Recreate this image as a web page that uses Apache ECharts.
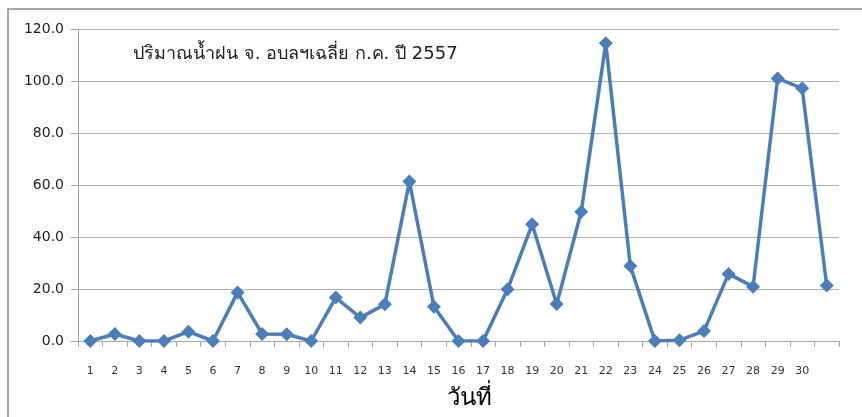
<!DOCTYPE html>
<html>
<head>
<meta charset="utf-8">
<script src="https://cdn.jsdelivr.net/npm/echarts@6/dist/echarts.min.js"></script>
<style>
  html, body { margin: 0; padding: 0; background: #fff; }
  #rain { width: 862px; height: 417px; }
</style>
</head>
<body>
<div id="rain"></div>
<script>
// วันที่ 1-30 (+ ช่องสุดท้ายไม่มีป้าย)
var days = ['1','2','3','4','5','6','7','8','9','10','11','12','13','14','15','16','17','18','19','20','21','22','23','24','25','26','27','28','29','30',''];
// ปริมาณน้ำฝนเฉลี่ย (มม.)
var rainfall = [0, 2.7, 0, 0, 3.6, 0, 18.7, 2.7, 2.6, 0, 16.7, 9.0, 14.1, 61.3, 13.2, 0, 0, 19.9, 44.9, 14.2, 49.7, 114.5, 28.8, 0, 0.3, 3.8, 25.8, 20.9, 101.0, 97.2, 21.3];
var yTicks = [0, 20, 40, 60, 80, 100, 120];

var myChart = echarts.init(document.getElementById('rain'));
var option = {
    animation: false,
    textStyle: { fontFamily: 'DejaVu Sans, Noto Sans, sans-serif' },
    grid: { left: 78, right: 23, top: 29, bottom: 76, containLabel: false, outerBoundsMode: 'none' },
    title: {
        text: 'ปริมาณน้ำฝน จ. อบลฯเฉลี่ย ก.ค. ปี 2557',
        left: 128, top: 40,
        textStyle: { fontSize: 18, fontWeight: 'normal', color: '#222' }
    },
    graphic: [{
        type: 'rect',
        shape: { x: 8, y: 9, width: 900, height: 450 },
        style: { fill: 'none', stroke: '#888', lineWidth: 1.5 },
        silent: true
    }],
    xAxis: {
        type: 'category',
        data: days,
        boundaryGap: true,
        name: 'วันที่',
        nameLocation: 'middle',
        nameGap: 46,
        nameTextStyle: { fontSize: 24, color: '#000', padding: [0, 0, 0, 22] },
        axisLine: { lineStyle: { color: '#a6a6a6', width: 1 } },
        axisTick: { show: true, length: 6, alignWithLabel: false, lineStyle: { color: '#a6a6a6' } },
        axisLabel: { fontSize: 11, color: '#333', margin: 25, interval: 0 }
    },
    yAxis: {
        type: 'value',
        min: yTicks[0],
        max: yTicks[yTicks.length - 1],
        interval: 20,
        axisLine: { show: true, lineStyle: { color: '#a6a6a6' } },
        axisTick: { show: true, length: 7, lineStyle: { color: '#a6a6a6' } },
        axisLabel: {
            fontSize: 14, color: '#222', margin: 14,
            formatter: function (v) { return v.toFixed(1); }
        },
        splitLine: { lineStyle: { color: '#b3b3b3', width: 1.2 } }
    },
    series: [{
        type: 'line',
        data: rainfall,
        symbol: 'diamond',
        symbolSize: 14,
        lineStyle: { color: '#4a7ebb', width: 3.5 },
        itemStyle: { color: '#4a7ebb' }
    }]
};
myChart.setOption(option);
</script>
</body>
</html>
